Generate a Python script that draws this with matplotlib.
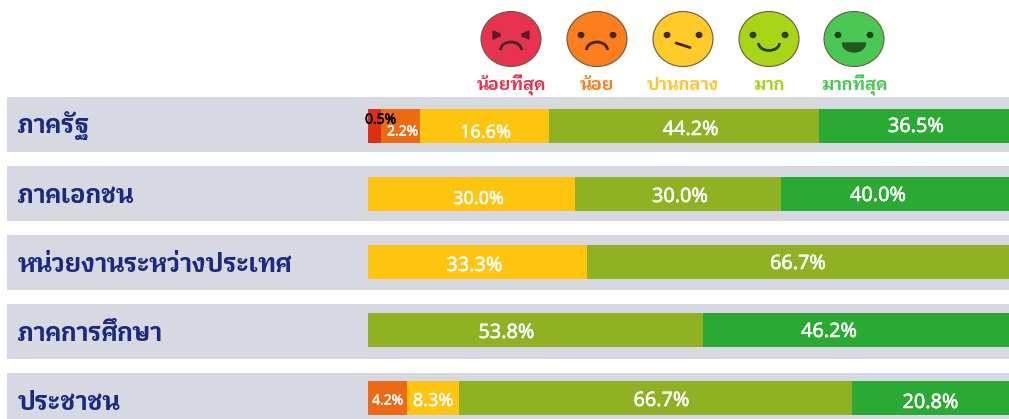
import matplotlib
matplotlib.use("Agg")
import numpy as np
import matplotlib.pyplot as plt
import matplotlib.patheffects as pe
from matplotlib import font_manager as fm
from matplotlib.patches import Ellipse, Arc, Polygon

# rows, top to bottom
sectors = ["ภาครัฐ", "ภาคเอกชน", "หน่วยงานระหว่างประเทศ", "ภาคการศึกษา", "ประชาชน"]
ratings = ["น้อยที่สุด", "น้อย", "ปานกลาง", "มาก", "มากที่สุด"]

# percentages printed on the segments (0 = no segment)
shown_pct = [
    [0.5, 2.2, 16.6, 44.2, 36.5],
    [0, 0, 30.0, 30.0, 40.0],
    [0, 0, 33.3, 66.7, 0],
    [0, 0, 0, 53.8, 46.2],
    [0, 4.2, 8.3, 66.7, 20.8],
]
# drawn segment lengths, they are not in proportion to the printed numbers
drawn_len = [
    [13, 39, 129, 270, 194],
    [0, 0, 207, 206, 228],
    [0, 0, 219, 422, 0],
    [0, 0, 0, 335, 306],
    [0, 39, 52, 393, 157],
]

bar_colors = ["#dc3010", "#ee6a12", "#ffc40d", "#90b222", "#29ab33"]
rating_colors = ["#e8354f", "#fb7e1d", "#fdc62a", "#a8d415", "#49c755"]
face_colors = ["#e83350", "#fd7e1c", "#ffcb29", "#a8d516", "#49c854"]
band_color = "#d6d9e2"
navy = "#1a2a7c"

# label nudges in pixels, from the middle of each segment
label_dx = [
    [6, 2, 1, 6.5, 0],
    [0, 0, 7, 2, -17],
    [0, 0, -3, 0, 0],
    [0, 0, 0, -29, -27],
    [0, 0, 0, 6, 0],
]
label_dy = [
    [-8, 4, 4.7, 2, -1],
    [0, 0, 3, 1, 0],
    [0, 0, 2, 0, 0],
    [0, 0, 0, 1, 0],
    [0, 1, 1, 1, 3],
]
label_size = [
    [10, 10, 13, 14.3, 14.3],
    [0, 0, 13, 14.3, 14.3],
    [0, 0, 14.3, 14.3, 0],
    [0, 0, 0, 14.3, 14.3],
    [0, 10, 13, 14.3, 14.3],
]

band_tops = [97, 166, 235, 304, 373]
bar_centers = [126, 194, 262, 330, 398]
face_x = [511, 597, 683, 769, 854]

installed = {f.name for f in fm.fontManager.ttflist}
thai_font = next((n for n in ["Krub", "Noto Sans Thai", "Kanit"] if n in installed), "DejaVu Sans")

fig = plt.figure(figsize=(10.09, 4.19), dpi=100)
ax = fig.add_axes([0, 0, 1, 1])
ax.set_xlim(0, 1009)
ax.set_ylim(419, 0)
ax.axis("off")

# grey bands behind each row
for top, name in zip(band_tops, sectors):
    ax.barh(top + 27.5, 1002, height=55, left=7, color=band_color, zorder=1)
    ax.text(18, top + 29, name, color=navy, fontsize=17.9, family=thai_font, fontweight="bold",
            ha="left", va="center", zorder=5)

# stacked segments
for r in range(len(sectors)):
    left = 368
    for c in range(5):
        length = drawn_len[r][c]
        if length == 0:
            continue
        ax.barh(bar_centers[r], length, height=34, left=left, color=bar_colors[c], zorder=2)
        text_color = "black" if shown_pct[r][c] == 0.5 else "white"
        # the font comes out regular weight here, so thicken with a thin stroke
        ax.text(left + length / 2 + label_dx[r][c], bar_centers[r] + label_dy[r][c] + 2,
                f"{shown_pct[r][c]:.1f}%", color=text_color,
                fontsize=label_size[r][c], family="Noto Sans",
                path_effects=[pe.withStroke(linewidth=0.35, foreground=text_color)],
                ha="center", va="center", zorder=6)
        left += length

# smiley row
eye_y = 35
for i, x in enumerate(face_x):
    ax.add_patch(Ellipse((x, 39), 60, 55, facecolor=face_colors[i], edgecolor="#6b5a45", lw=0.8, zorder=3))
    dark = "#3d2a1c" if i < 3 else "#24401a"
    if i == 0:
        for side in (-1, 1):
            ax.add_patch(Polygon([(x + side * 18, eye_y - 4), (x + side * 18, eye_y + 4),
                                  (x + side * 11, eye_y + 1), (x + side * 11, eye_y - 1)],
                                 color="#5c1a2c", zorder=4))
    else:
        for side in (-1, 1):
            ax.add_patch(Ellipse((x + side * 16, eye_y), 5.5, 5, color=dark, zorder=4))
    if i in (0, 1):
        ax.add_patch(Arc((x, 50), 21, 16, theta1=180, theta2=360, color=dark, lw=2, zorder=4))
    elif i == 2:
        ax.plot([x - 7, x + 7], [43, 47.5], color=dark, lw=2, solid_capstyle="round", zorder=4)
    elif i == 3:
        ax.add_patch(Arc((x, 43), 21, 15, theta1=0, theta2=180, color=dark, lw=2, zorder=4))
    else:
        t = np.linspace(0, np.pi, 30)
        ax.add_patch(Polygon(np.column_stack([x + 11.5 * np.cos(t), 43 + 9 * np.sin(t)]),
                             color="#1f5a23", zorder=4))
    ax.text(x, 85, ratings[i], color=rating_colors[i], fontsize=12.5, family=thai_font, fontweight="bold",
            ha="center", va="center", zorder=5)

fig.savefig("out.png", dpi=100)
